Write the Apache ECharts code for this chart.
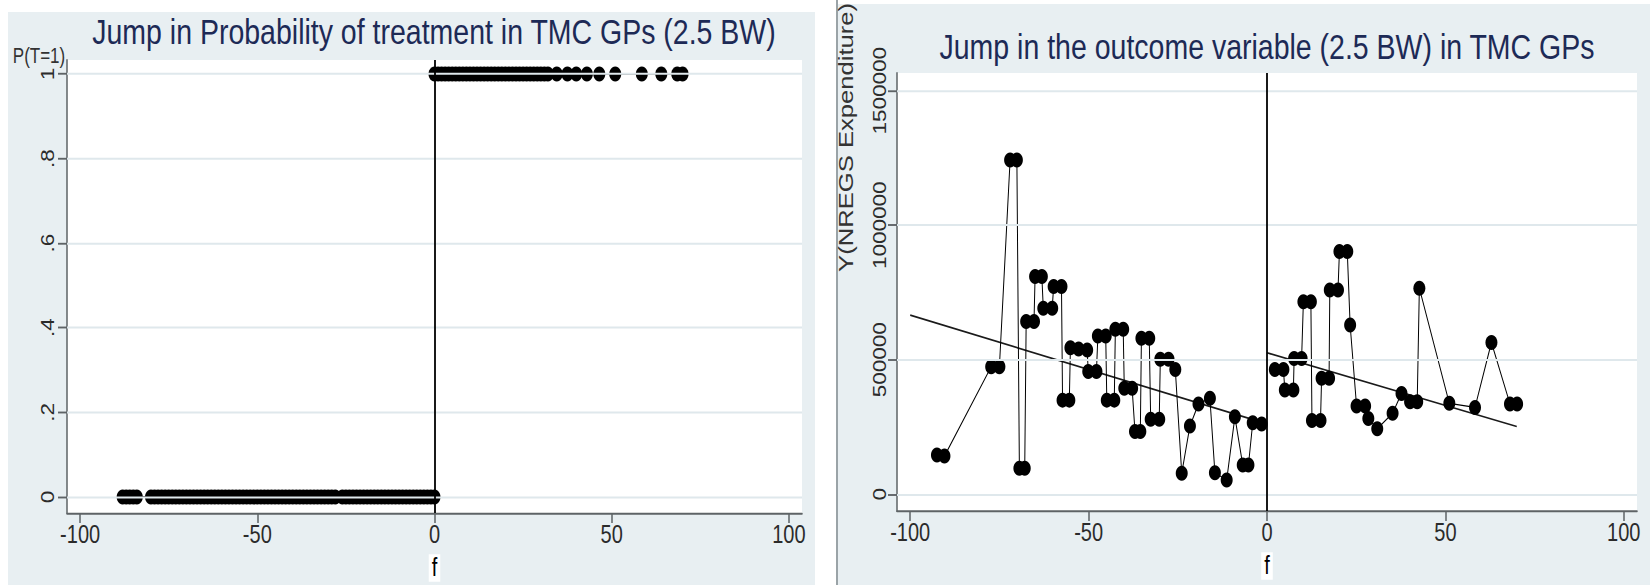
<!DOCTYPE html>
<html>
<head>
<meta charset="utf-8">
<script src="https://cdn.jsdelivr.net/npm/echarts@6/dist/echarts.min.js"></script>
<style>
  html, body { margin: 0; padding: 0; background: #ffffff; overflow: hidden; }
  #wrap { width: 1650px; height: 585px; overflow: hidden; }
  /* the figure is laid out short and stretched vertically, like the exported Stata panels */
  #chart { width: 1650px; height: 468px; transform: scaleY(1.25); transform-origin: 0 0; }
</style>
</head>
<body>
<div id="wrap"><div id="chart"></div></div>
<script>
// ---- Left panel: treatment status against the running variable f ----
const ctrlX = [-88, -87, -86, -85, -84, -80, -79, -78, -77, -76, -75, -74, -73, -72, -71, -70,
  -69, -68, -67, -66, -65, -64, -63, -62, -61, -60, -59, -58, -57, -56, -55, -54, -53, -52, -51,
  -50, -49, -48, -47, -46, -45, -44, -43, -42, -41, -40, -39, -38, -37, -36, -35, -34, -33, -32,
  -31, -30, -29, -28, -26, -25, -24, -23, -22, -21, -20, -19, -18, -17, -16, -15, -14, -13, -12,
  -11, -10, -9, -8, -7, -6, -5, -4, -3, -2, -1, 0];
const treatX = [0, 1, 2, 3, 4, 5, 6, 7, 8, 9, 10, 11, 12, 13, 14, 15, 16, 17, 18, 19, 20, 21, 22,
  23, 24, 25, 26, 27, 28, 29, 30, 31, 32, 34.5, 37.5, 40, 43, 46.5, 51, 58.5, 64, 68.5, 70];
const CTRL_P = 0;
const TREAT_P = 1;

// ---- Right panel: NREGS expenditure against f ----
const outLeftX = [-92.5, -90.4, -77.3, -75.0, -72.0, -70.1, -69.4, -67.9, -67.5, -65.3, -65.0, -63.1,
  -62.7, -60.2, -59.8, -57.6, -57.3, -55.4, -55.1, -52.8, -50.4, -50.1, -47.8, -47.4, -45.2, -44.9,
  -42.8, -42.5, -40.3, -40.0, -37.8, -37.0, -35.5, -35.2, -33.0, -32.6, -30.2, -29.9, -27.6, -25.7,
  -23.9, -21.6, -19.2, -16.0, -14.6, -11.3, -9.0, -6.8, -5.2, -4.0, -1.5];
const outLeftY = [146000, 142000, 474000, 474000, 1242000, 1242000, 97000, 97000, 642000, 642000,
  809000, 809000, 691000, 691000, 772000, 772000, 350000, 350000, 545000, 540000, 536000, 456000,
  456000, 588000, 588000, 350000, 350000, 613000, 613000, 394000, 394000, 233000, 233000, 580000,
  580000, 279000, 279000, 502000, 502000, 464000, 78000, 254000, 336000, 357000, 80000, 53000,
  288000, 109000, 109000, 266000, 261000];
const outRightX = [2.2, 4.6, 5.0, 7.4, 7.6, 9.7, 10.2, 12.3, 12.6, 15.0, 15.3, 17.4, 17.6, 19.9,
  20.3, 22.5, 23.3, 25.1, 27.5, 28.4, 30.9, 35.2, 37.7, 40.1, 42.1, 42.7, 51.1, 58.3, 62.9, 68.1, 70.1];
const outRightY = [464000, 464000, 388000, 388000, 505000, 505000, 716000, 716000, 274000, 274000,
  431000, 431000, 759000, 759000, 902000, 902000, 629000, 328000, 328000, 282000, 244000, 301000,
  375000, 344000, 344000, 766000, 338000, 323000, 564000, 336000, 336000];

// linear fits on each side of the cutoff
const fitLeftX = [-100, 0];
const fitLeftY = [666000, 262000];
const fitRightX = [0, 70];
const fitRightY = [526000, 252000];

// ---- axes ----
const fTicks = [-100, -50, 0, 50, 100];
const probTicks = [0, 0.2, 0.4, 0.6, 0.8, 1];
const probTickLabels = ['0', '.2', '.4', '.6', '.8', '1'];
const expTicks = [0, 500000, 1000000, 1500000];
const expTickLabels = ['0', '500000', '1000000', '1500000'];

const F_RANGE = [-103.7, 103.7];
const P_RANGE = [-0.038, 1.033];
const E_RANGE = [-62000, 1565600];

const FONT = "'Liberation Sans', Arial, sans-serif";
const INK = '#000000';
const AXIS = '#5e6366';
const LABEL = '#2b2b2b';
const GRIDLINE = '#dfe8ec';
const PANEL = '#e8eff2';
const TITLE = '#1d2a56';
const MARK = 12;

const pairs = (xs, ys) => xs.map((x, i) => [x, ys[i]]);
const constPairs = (xs, p) => xs.map(x => [x, p]);

function fAxis(gi) {
  return {
    type: 'value', gridIndex: gi, min: F_RANGE[0], max: F_RANGE[1],
    name: 'f', nameLocation: 'middle', nameGap: 33,
    nameTextStyle: { fontFamily: FONT, fontSize: 20, color: INK, backgroundColor: '#ffffff', padding: [1, 3, 1, 3] },
    axisLine: { onZero: false, lineStyle: { color: AXIS, width: 1.5 } },
    axisTick: { customValues: fTicks, length: 8, lineStyle: { color: AXIS, width: 1.5 } },
    axisLabel: { customValues: fTicks, formatter: v => String(v), margin: 7,
      fontFamily: FONT, fontSize: 20, color: LABEL },
    splitLine: { show: false }
  };
}

function valueAxis(gi, range, ticks, labels, margin) {
  return {
    type: 'value', gridIndex: gi, min: range[0], max: range[1],
    axisLine: { show: true, onZero: false, lineStyle: { color: AXIS, width: 1.5 } },
    axisTick: { show: true, customValues: ticks, length: 9, lineStyle: { color: AXIS, width: 1.5 } },
    axisLabel: { customValues: ticks, rotate: 90, margin: margin,
      formatter: v => labels[ticks.indexOf(v)] ?? '',
      fontFamily: FONT, fontSize: 18, color: LABEL },
    splitLine: { show: false }
  };
}

function gridLines(gi, ticks) {
  return {
    type: 'line', xAxisIndex: gi, yAxisIndex: gi, data: [], z: 1, silent: true,
    markLine: { silent: true, symbol: 'none', label: { show: false }, animation: false,
      lineStyle: { color: GRIDLINE, width: 1.5, type: 'solid' },
      data: ticks.map(v => ({ yAxis: v })) }
  };
}

function cutoffLine(gi) {
  return {
    type: 'line', xAxisIndex: gi, yAxisIndex: gi, data: [], z: 4, silent: true,
    markLine: { silent: true, symbol: 'none', label: { show: false }, animation: false,
      lineStyle: { color: INK, width: 1.8, type: 'solid' },
      data: [{ xAxis: 0 }] }
  };
}

function connected(gi, data) {
  return {
    type: 'line', xAxisIndex: gi, yAxisIndex: gi, data: data, z: 3,
    symbol: 'circle', symbolSize: MARK, showSymbol: true,
    itemStyle: { color: INK },
    lineStyle: { color: INK, width: 1 }
  };
}

function fitLine(gi, data) {
  return {
    type: 'line', xAxisIndex: gi, yAxisIndex: gi, data: data, z: 2,
    symbol: 'none', lineStyle: { color: '#1a1a1a', width: 1.4 }
  };
}

const option = {
  animation: false,
  backgroundColor: '#ffffff',
  grid: [
    { left: 67, top: 48, width: 735, height: 362.4, show: false, outerBoundsMode: 'none' },
    { left: 897, top: 58.4, width: 740, height: 350.4, show: false, outerBoundsMode: 'none' }
  ],
  xAxis: [fAxis(0), fAxis(1)],
  yAxis: [
    valueAxis(0, P_RANGE, probTicks, probTickLabels, 10),
    valueAxis(1, E_RANGE, expTicks, expTickLabels, 8)
  ],
  series: [
    gridLines(0, probTicks),
    gridLines(1, expTicks),
    connected(0, constPairs(ctrlX, CTRL_P)),
    connected(0, constPairs(treatX, TREAT_P)),
    cutoffLine(0),
    fitLine(1, pairs(fitLeftX, fitLeftY)),
    fitLine(1, pairs(fitRightX, fitRightY)),
    connected(1, pairs(outLeftX, outLeftY)),
    connected(1, pairs(outRightX, outRightY)),
    cutoffLine(1)
  ],
  graphic: [
    // panel backgrounds and plot regions
    { type: 'rect', z: -10, silent: true, shape: { x: 8, y: 9.6, width: 807, height: 470 }, style: { fill: PANEL } },
    { type: 'rect', z: -10, silent: true, shape: { x: 838, y: 3.2, width: 820, height: 470 }, style: { fill: PANEL } },
    { type: 'line', z: -9, silent: true, shape: { x1: 837, y1: 0, x2: 837, y2: 470 }, style: { stroke: '#9aa3a7', lineWidth: 2 } },
    { type: 'rect', z: -8, silent: true, shape: { x: 67, y: 48, width: 735, height: 362.4 }, style: { fill: '#ffffff' } },
    { type: 'rect', z: -8, silent: true, shape: { x: 897, y: 58.4, width: 740, height: 350.4 }, style: { fill: '#ffffff' } },
    // titles
    { type: 'text', z: 10, x: 434, y: 25.6, style: { text: 'Jump in Probability of treatment in TMC GPs (2.5 BW)',
        fontFamily: FONT, fontSize: 28.5, fill: TITLE, textAlign: 'center', textVerticalAlign: 'middle' } },
    { type: 'text', z: 10, x: 1267, y: 37.6, style: { text: 'Jump in the outcome variable (2.5 BW) in TMC GPs',
        fontFamily: FONT, fontSize: 28.5, fill: TITLE, textAlign: 'center', textVerticalAlign: 'middle' } },
    // y-axis titles
    { type: 'text', z: 10, x: 39, y: 45, style: { text: 'P(T=1)', fontFamily: FONT, fontSize: 17,
        fill: '#333333', textAlign: 'center', textVerticalAlign: 'middle' } },
    { type: 'text', z: 10, x: 846, y: 217.5, rotation: Math.PI / 2, style: { text: 'Y(NREGS Expenditure)',
        fontFamily: FONT, fontSize: 20.5, fill: '#333333', textAlign: 'left', textVerticalAlign: 'middle' } }
  ]
};

const chart = echarts.init(document.getElementById('chart'), null, { renderer: 'svg' });
chart.setOption(option);
</script>
</body>
</html>
